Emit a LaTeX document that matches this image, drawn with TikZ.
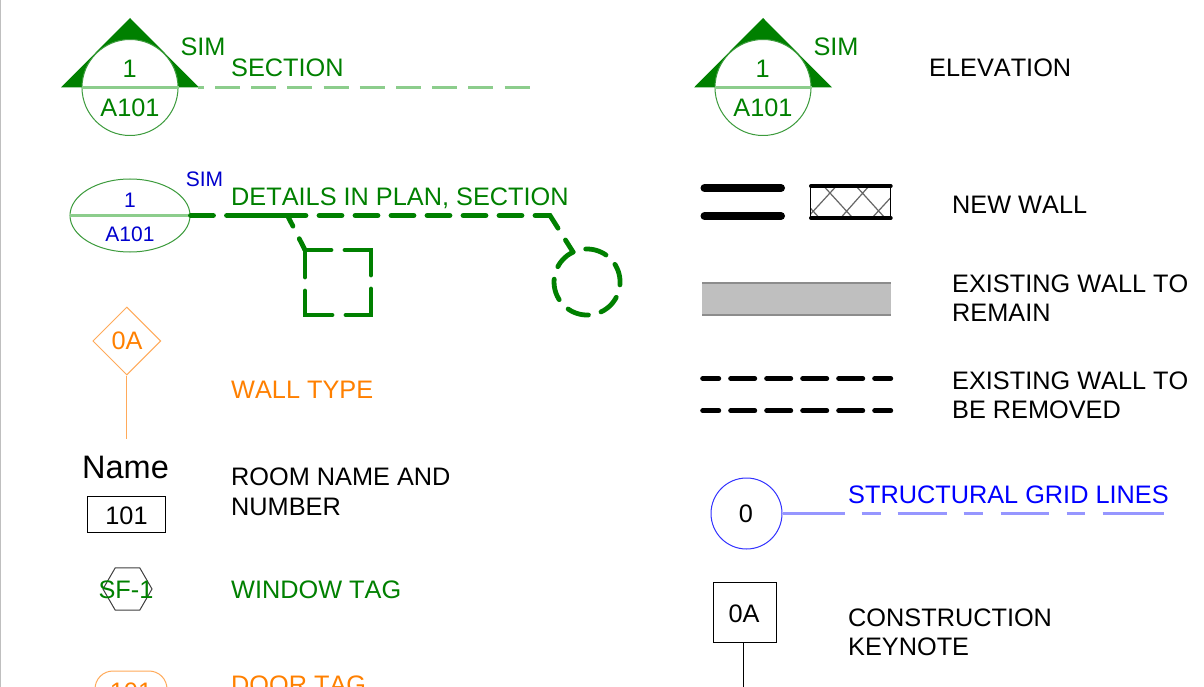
\documentclass[tikz,border=0pt]{standalone}
\usepackage{fontspec}
\setmainfont[Kerning=Off]{Liberation Sans}
\usetikzlibrary{shapes.geometric,shapes.misc}
\definecolor{gr}{RGB}{0,128,0}
\definecolor{lgr}{RGB}{140,205,140}
\definecolor{mgr}{RGB}{60,155,60}
\definecolor{og}{RGB}{255,128,0}
\definecolor{lorg}{RGB}{255,170,90}
\definecolor{bl}{RGB}{0,0,255}
\definecolor{dbl}{RGB}{0,0,205}
\definecolor{lbl}{RGB}{150,150,255}
\tikzset{
 lab/.style={inner sep=0pt,anchor=base west,font=\fontsize{25.3}{29}\selectfont,align=left},
 tag/.style={inner sep=0pt,anchor=base,font=\fontsize{25.3}{29}\selectfont},
 smalltag/.style={inner sep=0pt,anchor=base,font=\fontsize{21}{25}\selectfont,text=dbl},
 thickwall/.style={draw=black,line width=8pt,line cap=round},
 demo/.style={draw=black,line width=5pt,line cap=round,dash pattern=on 16pt off 12pt on 24pt off 12pt on 24pt off 12pt on 24pt off 12pt on 24pt off 12pt on 16pt off 12pt},
 det/.style={draw=gr,line width=4.8pt,line cap=round},
 bubble/.style={circle,draw=mgr,fill=white,line width=1pt,minimum size=96pt,inner sep=0pt},
 thin green/.style={draw=lgr,line width=2.4pt},
}
\begin{document}
\begin{tikzpicture}[x=1pt,y=-1pt]
\useasboundingbox (0,0) rectangle (1204,687);
\fill[white] (0,0) rectangle (1204,687);
\coordinate (edgeA) at (0.7,0); \coordinate (edgeB) at (0.7,687);
\draw[black!25,line width=1.4pt] (edgeA)--(edgeB);
% Section
\fill[gr] (61,87.5)--(130,18)--(199,87.5)--cycle;
\node[bubble] (s1) at (130,87.5) {};
\coordinate (s1r) at (198,87.5);
\draw[thin green] (s1.west)--(s1.east);
\node[tag,text=gr] (s1a) at (129.7,78) {1};
\node[tag,text=gr] (s1b) at (130,117) {A101};
\node[tag,text=gr] (s1c) at (203,55.5) {SIM};
\node[lab,text=gr] (s1d) at (231,77) {SECTION};
\coordinate (s1e) at (530,87.5);
\draw[thin green,dash pattern=on 6pt off 11pt on 25pt off 11.2pt on 25pt off 11.2pt on 25pt off 11.2pt on 25pt off 11.2pt on 25pt off 11.2pt on 25pt off 11.2pt on 25pt off 11.2pt on 25pt off 11.2pt on 25pt off 11.2pt] (s1r)--(s1e);
% Elevation
\fill[gr] (694,87.5)--(763,18)--(832,87.5)--cycle;
\node[bubble] (e1) at (763,87.5) {};
\draw[thin green] (e1.west)--(e1.east);
\node[tag,text=gr] (e1a) at (762.7,78) {1};
\node[tag,text=gr] (e1b) at (763,117) {A101};
\node[tag,text=gr] (e1c) at (836,55.5) {SIM};
\node[lab] (e1d) at (929,77) {ELEVATION};
% Details
\node[ellipse,draw=mgr,line width=1pt,minimum width=120pt,minimum height=73pt,inner sep=0pt] (d1) at (130,215.5) {};
\draw[thin green] (d1.west)--(d1.east);
\node[smalltag] (d1a) at (130,207.5) {1};
\node[smalltag] (d1b) at (130,241) {A101};
\node[smalltag] (d1c) at (204.5,187) {SIM};
\node[lab,text=gr] (d1d) at (231,205) {DETAILS IN PLAN, SECTION};
\coordinate (p1) at (287.5,215.5); \coordinate (p2) at (305,250);
\coordinate (q0) at (247,215.5); \coordinate (p3) at (550,215.5); \coordinate (p4) at (573.1,252.1);
\draw[det,dash pattern=on 23pt off 13pt on 23pt off 13pt on 37pt off 14pt on 25pt off 5pt] (d1.east)--(p1)--(p2);
\draw[det,dash pattern=on 23pt off 13pt on 23pt off 13pt on 23pt off 13pt on 23pt off 13pt on 23pt off 13pt on 23pt off 13pt on 23pt off 13pt on 23pt off 13pt on 30pt off 14pt on 25pt off 5pt] (q0)--(p3)--(p4);
\coordinate (sqa) at (305,250); \coordinate (sqb) at (371,315);
\draw[det,dash pattern=on 26pt off 14pt on 51pt off 14pt on 51pt off 14pt on 51pt off 14pt on 26pt off 10pt] (sqa) -- (371,250) -- (sqb) -- (305,315) -- cycle;
\draw[det,dash pattern=on 21.5pt off 13.05pt] (p4) arc[start angle=-115,end angle=-475,radius=33];
% Wall type
\node[diamond,draw=lorg,line width=1pt,minimum width=68pt,minimum height=68pt,inner sep=0pt] (w1) at (126.8,341) {};
\node[tag,text=og] (w1a) at (127,349.5) {0A};
\coordinate (w1e) at (126.8,439);
\draw[draw=lorg,line width=1.2pt] (w1.south)--(w1e);
\node[lab,text=og] (w1b) at (231,398) {WALL TYPE};
% Room
\node[tag,font=\fontsize{32.5}{36}\selectfont] (r1) at (125.5,478) {Name};
\node[draw=black,line width=1pt,minimum width=78pt,minimum height=36pt,inner sep=0pt] (r2) at (126.5,514) {};
\node[tag] (r3) at (126.5,524) {101};
\node[lab,anchor=north west,font=\fontsize{25.3}{30}\selectfont] (r4) at (231,468) {ROOM NAME AND\\NUMBER};
% Window
\node[regular polygon,regular polygon sides=6,draw=black!75,line width=1pt,minimum size=49pt,inner sep=0pt] (t1) at (127.5,589) {};
\node[tag,text=gr] (t1a) at (126,598) {SF-1};
\node[lab,text=gr] (t1b) at (231,598) {WINDOW TAG};
% Door
\node[rounded rectangle,draw=lorg,line width=1pt,minimum width=72pt,minimum height=36pt,inner sep=0pt] (o1) at (131,689) {};
\node[tag,text=og] (o1a) at (131,700) {101};
\node[lab,text=og] (o1b) at (231,693) {DOOR TAG};
% New wall
\coordinate (a1) at (704.5,188); \coordinate (a2) at (781,188);
\coordinate (a3) at (704.5,216); \coordinate (a4) at (781,216);
\draw[thickwall] (a1)--(a2); \draw[thickwall] (a3)--(a4);
\begin{scope}
\clip (810.7,186) rectangle (890.7,218);
\draw[draw=black!60,line width=1.2pt]
 (807,218)--(836.4,186) (840.6,218)--(869,186) (872,218)--(901.4,186)
 (823.6,186)--(852.8,218) (856,186)--(885,218) (810.7,208.5)--(819.4,218);
\end{scope}
\draw[draw=black,line width=1pt] (810.7,186)--(810.7,218) (890.7,186)--(890.7,218);
\draw[draw=black,line width=4pt,line cap=round] (811,186)--(890.7,186) (811,218)--(890.7,218);
\node[lab] (n1) at (952,213) {NEW WALL};
% Existing
\fill[black!25] (702,283) rectangle (891,315);
\draw[draw=black!45,line width=1.6pt] (702,283)--(891,283) (702,315)--(891,315);
\node[lab,anchor=north west] (n2) at (952,275) {EXISTING WALL TO\\REMAIN};
% Removed
\coordinate (ra1) at (702.7,378.5); \coordinate (ra2) at (890.7,378.5);
\coordinate (rb1) at (702.7,410.7); \coordinate (rb2) at (890.7,410.7);
\draw[demo] (ra1)--(ra2);
\draw[demo] (rb1)--(rb2);
\node[lab,anchor=north west] (n3) at (952,372) {EXISTING WALL TO\\BE REMOVED};
% Grid
\node[circle,draw=bl!80,line width=1pt,minimum size=71pt,inner sep=0pt] (g1) at (746.5,513.5) {};
\node[tag] (g1a) at (746,522) {0};
\coordinate (g1e) at (1164,513.5);
\draw[draw=lbl,line width=2.4pt,dash pattern=on 62pt off 17pt on 19pt off 17pt on 49pt off 17pt on 19pt off 18pt on 48pt off 18pt on 18pt off 18pt on 62pt off 5pt] (g1.east)--(g1e);
\node[lab,text=bl] (g1b) at (848,503) {STRUCTURAL GRID LINES};
% Keynote
\node[draw=black,line width=1pt,minimum width=63pt,minimum height=60pt,inner sep=0pt] (k1) at (744.5,612) {};
\node[tag] (k1a) at (744,622) {0A};
\coordinate (k1e) at (743.5,687);
\draw[draw=black,line width=1pt] (k1.south -| k1e)--(k1e);
\node[lab,anchor=north west] (k1b) at (848,609) {CONSTRUCTION\\KEYNOTE};
\end{tikzpicture}
\end{document}
